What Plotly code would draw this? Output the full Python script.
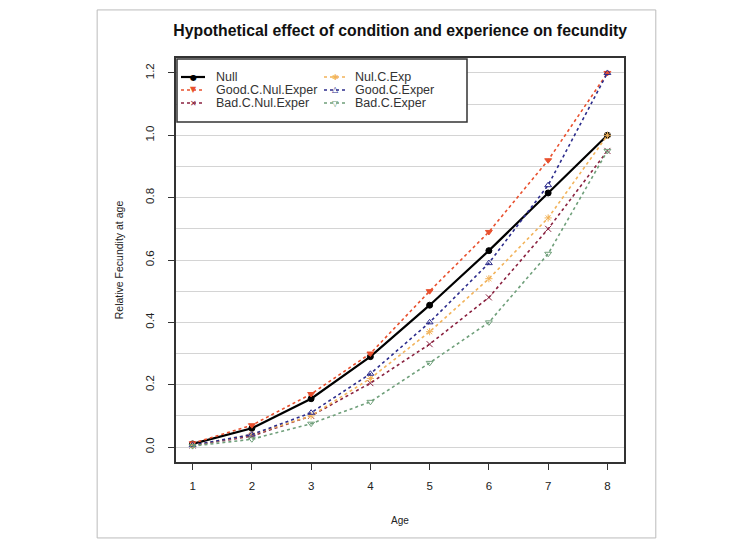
import plotly.graph_objects as go

ages = [1, 2, 3, 4, 5, 6, 7, 8]
null = [0.01, 0.06, 0.155, 0.29, 0.455, 0.63, 0.815, 1.0]
nul_c_exp = [0.005, 0.04, 0.10, 0.22, 0.37, 0.54, 0.735, 1.0]
good_c_nul_exper = [0.012, 0.07, 0.17, 0.30, 0.50, 0.69, 0.92, 1.2]
good_c_exper = [0.006, 0.04, 0.11, 0.235, 0.40, 0.59, 0.84, 1.2]
bad_c_nul_exper = [0.005, 0.035, 0.10, 0.205, 0.33, 0.48, 0.70, 0.95]
bad_c_exper = [0.003, 0.025, 0.075, 0.145, 0.27, 0.40, 0.62, 0.95]

y_ticks = [0.0, 0.2, 0.4, 0.6, 0.8, 1.0, 1.2]
x_ticks = ages

FONT = "Liberation Sans, Arial, sans-serif"

# name, values, color, dash, marker symbol, width, legend glyph
series = [
    ("Null", null, "#000000", "solid", "circle", 2.2, "●"),
    ("Good.C.Nul.Exper", good_c_nul_exper, "#e8502e", "dot", "triangle-down", 1.6, "▼"),
    ("Bad.C.Nul.Exper", bad_c_nul_exper, "#8a2240", "dot", "x-thin-open", 1.6, "✕"),
    ("Nul.C.Exp", nul_c_exp, "#f2b35a", "dot", "asterisk-open", 1.6, "✱"),
    ("Good.C.Exper", good_c_exper, "#2c2c8c", "dot", "triangle-up-open", 1.6, "△"),
    ("Bad.C.Exper", bad_c_exper, "#6f9f7a", "dot", "triangle-down-open", 1.6, "▽"),
]

fig = go.Figure()
for name, vals, color, dash, sym, w, glyph in series:
    fig.add_trace(go.Scatter(
        x=ages, y=vals, name=name, mode="lines+markers",
        line=dict(color=color, dash=dash, width=w),
        marker=dict(symbol=sym, size=6, color=color,
                    line=dict(color=color, width=1)),
        showlegend=False,
    ))

# plot area (target screen pixels): left 176, width 448, top 58, height 404
def px(x):
    return (x - 176) / 448.0

def py(y):
    return (462 - y) / 404.0

shapes = [
    dict(type="rect", xref="paper", yref="paper", x0=-0.176, x1=1.071,
         y0=-0.188, y1=1.119, fillcolor="rgba(0,0,0,0)",
         line=dict(color="#bbbbbb", width=1), layer="below"),
    dict(type="rect", xref="paper", yref="paper", x0=px(177), x1=px(467),
         y0=py(122), y1=py(59), fillcolor="white",
         line=dict(color="#333", width=1.5), layer="above"),
]
annotations = []
rows = [77, 90, 103]
cols = [(181, 205, 214), (324, 346, 353)]
for i, (name, vals, color, dash, sym, w, glyph) in enumerate(series):
    c = cols[i // 3]
    r = rows[i % 3]
    shapes.append(dict(type="line", xref="paper", yref="paper",
                       x0=px(c[0]), x1=px(c[1]), y0=py(r), y1=py(r),
                       line=dict(color=color, dash=dash, width=w), layer="above"))
    annotations.append(dict(xref="paper", yref="paper", x=px((c[0] + c[1]) / 2),
                            y=py(r), text=glyph, showarrow=False,
                            xanchor="center", yanchor="middle",
                            font=dict(size=8, color=color, family="DejaVu Sans")))
    annotations.append(dict(xref="paper", yref="paper", x=px(c[2]), y=py(r),
                            text=name, showarrow=False, xanchor="left",
                            yanchor="middle",
                            font=dict(size=12.5, color="#333", family=FONT)))

# the page body adds an 8px offset, so margins are shifted by -8
fig.update_layout(
    width=729, height=540,
    margin=dict(l=168, r=113, t=50, b=86),
    paper_bgcolor="white", plot_bgcolor="white",
    font=dict(family=FONT, color="#222222", size=11),
    title=dict(text="<b>Hypothetical effect of condition and experience on fecundity</b>",
               x=0.538, xanchor="center", y=0.958, yanchor="middle",
               font=dict(size=15.8, color="#111111")),
    xaxis=dict(range=[0.72, 8.28], tickvals=x_ticks, ticks="outside", ticklen=6,
               tickcolor="#333", showgrid=False, zeroline=False, automargin=False,
               showline=True, linecolor="#333", linewidth=1.5, mirror=True,
               tickfont=dict(size=11.5), ticklabelstandoff=6,
               title=dict(text="Age", font=dict(size=10), standoff=26)),
    yaxis=dict(range=[-0.048, 1.248], tickvals=y_ticks, tickformat=".1f",
               ticks="outside", ticklen=6, tickcolor="#333", tickangle=-90,
               showgrid=True, gridcolor="#d4d4d4", gridwidth=1, zeroline=False,
               automargin=False,
               minor=dict(dtick=0.1, showgrid=True, gridcolor="#d4d4d4", gridwidth=1),
               showline=True, linecolor="#333", linewidth=1.5, mirror=True,
               tickfont=dict(size=11.5), ticklabelstandoff=10,
               title=dict(text="Relative Fecundity at age", font=dict(size=10.5), standoff=18)),
    shapes=shapes,
    annotations=annotations,
)

fig.write_html("out.html")
